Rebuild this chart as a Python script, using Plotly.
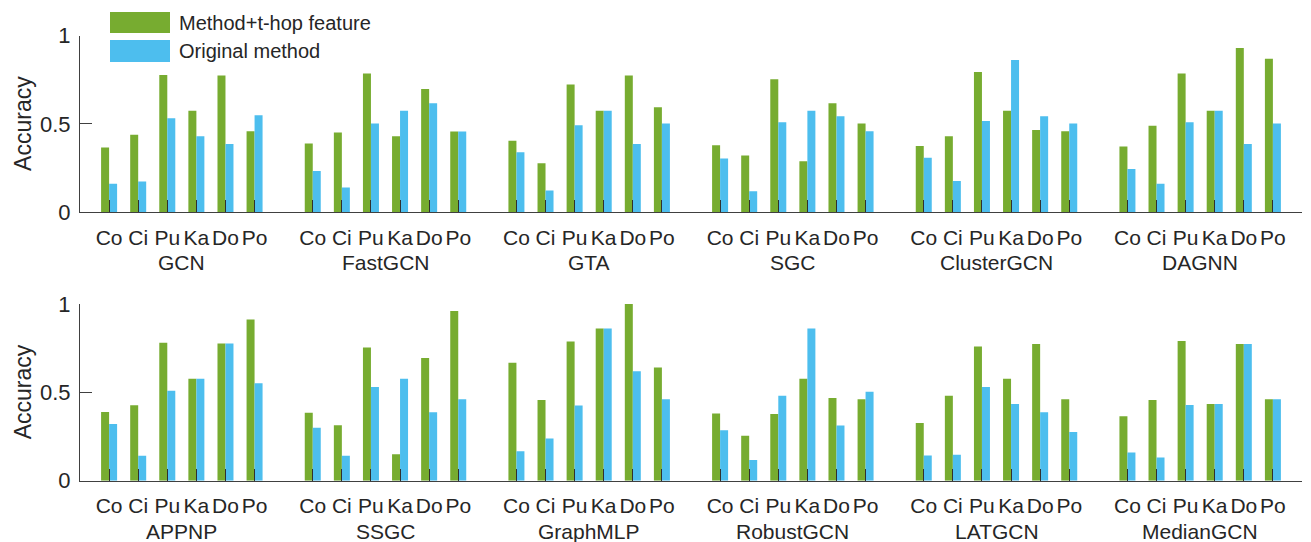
import plotly.graph_objects as go

datasets = ["Co", "Ci", "Pu", "Ka", "Do", "Po"]
models_top = ["GCN", "FastGCN", "GTA", "SGC", "ClusterGCN", "DAGNN"]
models_bottom = ["APPNP", "SSGC", "GraphMLP", "RobustGCN", "LATGCN", "MedianGCN"]

# Method + t-hop feature (green) and Original method (blue), per model, per dataset
thop_top = [
    [0.366, 0.438, 0.777, 0.575, 0.774, 0.458],  # GCN
    [0.389, 0.451, 0.785, 0.430, 0.698, 0.457],  # FastGCN
    [0.404, 0.277, 0.723, 0.575, 0.774, 0.594],  # GTA
    [0.379, 0.321, 0.753, 0.289, 0.617, 0.502],  # SGC
    [0.375, 0.430, 0.794, 0.575, 0.466, 0.458],  # ClusterGCN
    [0.372, 0.489, 0.785, 0.575, 0.930, 0.868],  # DAGNN
]
orig_top = [
    [0.162, 0.174, 0.532, 0.430, 0.387, 0.549],
    [0.234, 0.140, 0.502, 0.575, 0.617, 0.457],
    [0.340, 0.123, 0.492, 0.575, 0.387, 0.502],
    [0.304, 0.119, 0.509, 0.575, 0.543, 0.458],
    [0.308, 0.177, 0.517, 0.862, 0.543, 0.502],
    [0.245, 0.162, 0.509, 0.575, 0.387, 0.502],
]
thop_bottom = [
    [0.389, 0.427, 0.780, 0.577, 0.776, 0.912],  # APPNP
    [0.385, 0.314, 0.754, 0.150, 0.695, 0.961],  # SSGC
    [0.667, 0.457, 0.788, 0.861, 1.000, 0.641],  # GraphMLP
    [0.380, 0.254, 0.378, 0.577, 0.468, 0.461],  # RobustGCN
    [0.327, 0.481, 0.759, 0.577, 0.774, 0.461],  # LATGCN
    [0.365, 0.457, 0.791, 0.434, 0.774, 0.461],  # MedianGCN
]
orig_bottom = [
    [0.321, 0.141, 0.509, 0.577, 0.776, 0.551],
    [0.299, 0.141, 0.530, 0.577, 0.387, 0.461],
    [0.167, 0.239, 0.425, 0.861, 0.620, 0.461],
    [0.286, 0.117, 0.481, 0.861, 0.312, 0.504],
    [0.143, 0.147, 0.530, 0.434, 0.387, 0.276],
    [0.160, 0.132, 0.429, 0.434, 0.774, 0.461],
]

GREEN = "#77AC30"
BLUE = "#4DBEEE"
TXT = "#262626"
AX = "#404040"
W, H = 1311, 542
SLOTS = len(datasets) + 1

fig = go.Figure()

def flat(rows):
    xs, ys = [], []
    for g, vals in enumerate(rows):
        for i, v in enumerate(vals):
            xs.append(g * SLOTS + i)
            ys.append(v)
    return xs, ys

rows = [
    (thop_top, orig_top, models_top, "x", "y"),
    (thop_bottom, orig_bottom, models_bottom, "x2", "y2"),
]
for thop, orig, models, xa, ya in rows:
    xg, yg = flat(thop)
    xb, yb = flat(orig)
    fig.add_trace(go.Bar(x=xg, y=yg, name="Method+t-hop feature", marker_color=GREEN,
                         marker_line_width=0, offsetgroup="a", xaxis=xa, yaxis=ya,
                         showlegend=False))
    fig.add_trace(go.Bar(x=xb, y=yb, name="Original method", marker_color=BLUE,
                         marker_line_width=0, offsetgroup="b", xaxis=xa, yaxis=ya,
                         showlegend=False))
    for g, m in enumerate(models):
        fig.add_annotation(x=g * SLOTS + 2.5, xref=xa, y=-0.285, yref=ya + " domain",
                           text=m, showarrow=False, xanchor="center", yanchor="middle",
                           font=dict(size=21, color=TXT))
    fig.add_annotation(x=23 / W, xref="paper", y=0.5, yref=ya + " domain",
                       text="Accuracy", textangle=-90, showarrow=False,
                       xanchor="center", yanchor="middle",
                       font=dict(size=23, color=TXT))

tickvals = [g * SLOTS + i for g in range(6) for i in range(len(datasets))]
ticktext = datasets * 6

xdom = [80 / W, 1302 / W]
common_x = dict(range=[-1, 6 * SLOTS - 1], tickvals=tickvals, ticktext=ticktext,
                ticks="inside", ticklen=12, tickcolor="#303030", tickwidth=1,
                showline=True, linecolor=AX, linewidth=1, showgrid=False, zeroline=False,
                tickfont=dict(size=21, color=TXT), domain=xdom, layer="above traces",
                ticklabelstandoff=6, automargin=False)
common_y = dict(range=[0, 1.0], tickvals=[0, 0.5, 1], ticktext=["0", "0.5", "1"],
                ticks="inside", ticklen=12, tickcolor=AX, showline=True, linecolor=AX,
                linewidth=1, showgrid=False, zeroline=False,
                tickfont=dict(size=22, color=TXT), ticklabelstandoff=4, automargin=False)

fig.update_layout(
    width=W, height=H,
    margin=dict(l=0, r=0, t=0, b=0, pad=0, autoexpand=False),
    plot_bgcolor="white", paper_bgcolor="white",
    font=dict(family="Liberation Sans, Arial, sans-serif", color=TXT),
    barmode="group", bargap=0.45, bargroupgap=0,
    xaxis=dict(**common_x, anchor="y"),
    xaxis2=dict(**common_x, anchor="y2"),
    yaxis=dict(**common_y, anchor="x", domain=[1 - 212.3 / H, 1 - 35.5 / H]),
    yaxis2=dict(**common_y, anchor="x2", domain=[1 - 480.7 / H, 1 - 304 / H]),
)

# Legend drawn as swatches + labels
legend_items = [("Method+t-hop feature", GREEN, 12, 33), ("Original method", BLUE, 40, 62)]
for label, col, y0, y1 in legend_items:
    fig.add_shape(type="rect", xref="paper", yref="paper",
                  x0=110 / W, x1=170 / W, y0=1 - y1 / H, y1=1 - y0 / H,
                  fillcolor=col, line_width=0)
    fig.add_annotation(x=177 / W, y=1 - (y0 + y1) / 2 / H, xref="paper", yref="paper",
                       text=label, showarrow=False, xanchor="left", yanchor="middle",
                       font=dict(size=20, color=TXT))

fig.write_html("out.html",
               config={"displayModeBar": False},
               post_script="document.body.style.margin='0';document.body.style.overflow='hidden';")
